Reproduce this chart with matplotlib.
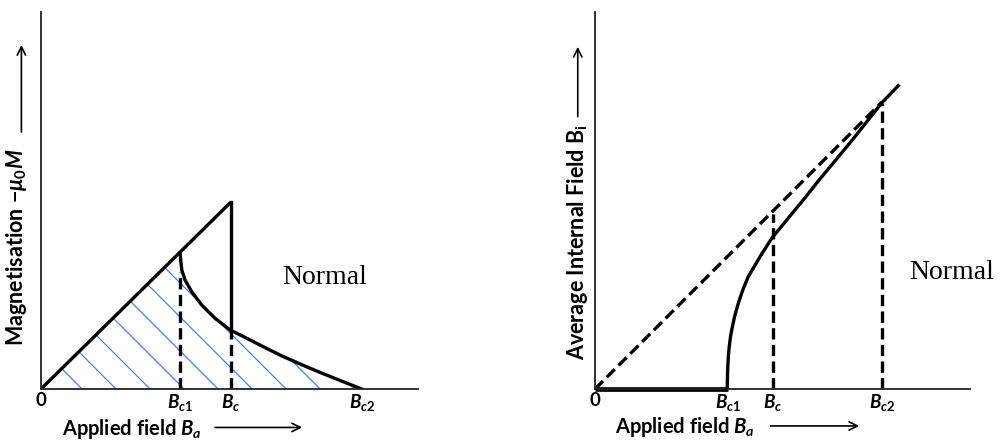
import numpy as np
import matplotlib
matplotlib.use("Agg")
import matplotlib.pyplot as plt
from matplotlib.patches import Polygon

plt.rcParams['font.family'] = ['Lato', 'DejaVu Sans']
plt.rcParams['mathtext.fontset'] = 'custom'
plt.rcParams['mathtext.it'] = 'Lato:italic:bold'
plt.rcParams['mathtext.rm'] = 'Lato:bold'
plt.rcParams['mathtext.bf'] = 'Lato:bold'

# ---------------- data: left panel (magnetisation) ----------------
left_ticks = [0.0, 0.732, 1.0, 1.688]
left_ticklabels = ["0", r"$B_{c1}$", r"$B_c$", r"$B_{c2}$"]
meissner_x = [0.0, 1.0]
meissner_y = [0.0, 1.0]
drop_x = [1.0, 1.0]
drop_y = [1.0, 0.316]
mixed_x = [0.732, 0.736, 0.741, 0.758, 0.793, 0.846, 0.916, 0.995, 1.074, 1.162,
           1.267, 1.372, 1.477, 1.583, 1.688]
mixed_y = [0.728, 0.680, 0.636, 0.583, 0.520, 0.449, 0.378, 0.316, 0.276, 0.230,
           0.177, 0.130, 0.085, 0.042, 0.0]
left_dashed_tops = [0.627, 0.316]   # at Bc1, Bc

# ---------------- data: right panel (internal field) ----------------
right_ticks = [0.0, 0.747, 1.0, 1.611]
right_ticklabels = ["0", r"$B_{c1}$", r"$B_c$", r"$B_{c2}$"]
zero_x = [0.0, 0.747]
zero_y = [0.0, 0.0]
bi_x = [0.743, 0.744, 0.746, 0.749, 0.754, 0.760, 0.768, 0.785, 0.805, 0.830,
        0.861, 0.927, 0.993, 1.077, 1.170, 1.264, 1.358, 1.449, 1.534, 1.611, 1.704]
bi_y = [0.0, 0.06, 0.12, 0.181, 0.235, 0.285, 0.331, 0.410, 0.481, 0.555,
        0.631, 0.743, 0.847, 0.949, 1.062, 1.180, 1.293, 1.403, 1.510, 1.607, 1.704]
normal_x = [0.0, 1.611]
normal_y = [0.0, 1.611]
right_dashed_tops = [0.985, 1.605]  # at Bc, Bc2

W, H = 1003, 441
fig = plt.figure(figsize=(W / 100, H / 100), dpi=100)
ax1 = fig.add_axes([41 / W, 52 / H, 377 / W, 377 / H])
ax2 = fig.add_axes([595 / W, 52 / H, 375 / W, 377 / H])

LW = 2.4
DASH = (3.4, 1.6)
ARROW = dict(arrowstyle='->,head_length=0.6,head_width=0.3', lw=1.2, color='black')

for ax in (ax1, ax2):
    for s in ('top', 'right'):
        ax.spines[s].set_visible(False)
    for s in ('left', 'bottom'):
        ax.spines[s].set_linewidth(1.3)
        ax.spines[s].set_color('#222222')
    ax.tick_params(axis='x', length=0, pad=2, labelsize=13.5)
    ax.set_yticks([])

# ---------- left ----------
ax1.set_xlim(0, 1.984)
ax1.set_ylim(0, 2.016)
ax1.set_xticks(left_ticks)
ax1.set_xticklabels(left_ticklabels)

poly_pts = [(0.0, 0.0)] + list(zip(mixed_x, mixed_y))
poly = Polygon(poly_pts, closed=True, facecolor='none', edgecolor='none')
ax1.add_patch(poly)
spacing = 0.179
slope = 190 / 187
for x0 in np.arange(0.216, 1.7, spacing):
    ln, = ax1.plot([x0 - 1.5, x0], [1.5 * slope, 0.0], color='#4f7fd0', lw=0.9)
    ln.set_clip_path(poly)

ax1.plot(meissner_x, meissner_y, color='black', lw=LW, solid_capstyle='butt')
ax1.plot(drop_x, drop_y, color='black', lw=LW)
ax1.plot(mixed_x, mixed_y, color='black', lw=LW, solid_joinstyle='round')
for xv, top in zip(left_ticks[1:3], left_dashed_tops):
    ax1.plot([xv, xv], [0, top], color='black', lw=LW, dashes=DASH)

ax1.text(0.753, 0.297, "Normal", transform=ax1.transAxes, ha='center', va='center',
         family='Liberation Serif', fontsize=20)

ax1.text(0.056, -0.106, r"Applied field $B_a$", transform=ax1.transAxes,
         ha='left', va='center', fontsize=14.5, fontweight='bold')
ax1.annotate("", xy=(0.700, -0.102), xytext=(0.454, -0.102), xycoords='axes fraction',
             arrowprops=ARROW, annotation_clip=False)
ax1.text(-0.064, 0.375, r"Magnetisation $-\mu_0 M$", transform=ax1.transAxes,
         ha='center', va='center', rotation=90, fontsize=15.5, fontweight='bold')
ax1.annotate("", xy=(-0.052, 0.920), xytext=(-0.052, 0.674), xycoords='axes fraction',
             arrowprops=ARROW, annotation_clip=False)

# ---------- right ----------
ax2.set_xlim(0, 2.107)
ax2.set_ylim(0, 2.118)
ax2.set_xticks(right_ticks)
ax2.set_xticklabels(right_ticklabels)

ax2.plot(normal_x, normal_y, color='black', lw=LW, dashes=DASH)
ax2.plot(zero_x, zero_y, color='black', lw=3.4, solid_capstyle='butt', clip_on=False)
ax2.plot(bi_x, bi_y, color='black', lw=LW, solid_joinstyle='round')
for xv, top in zip([right_ticks[2], right_ticks[3]], right_dashed_tops):
    ax2.plot([xv, xv], [0, top], color='black', lw=LW, dashes=DASH)

ax2.text(0.952, 0.310, "Normal", transform=ax2.transAxes, ha='center', va='center',
         family='Liberation Serif', fontsize=20)

ax2.text(0.053, -0.102, r"Applied field $B_a$", transform=ax2.transAxes,
         ha='left', va='center', fontsize=14.5, fontweight='bold')
ax2.annotate("", xy=(0.712, -0.098), xytext=(0.461, -0.098), xycoords='axes fraction',
             arrowprops=ARROW, annotation_clip=False)
ax2.text(-0.046, 0.390, r"Average Internal Field B$_\mathrm{i}$", transform=ax2.transAxes,
         ha='center', va='center', rotation=90, fontsize=15.5, fontweight='bold')
ax2.annotate("", xy=(-0.046, 0.915), xytext=(-0.046, 0.715), xycoords='axes fraction',
             arrowprops=ARROW, annotation_clip=False)

for lab in ax1.get_xticklabels() + ax2.get_xticklabels():
    lab.set_fontweight('bold')

fig.savefig("out.png", dpi=100, facecolor='white')
